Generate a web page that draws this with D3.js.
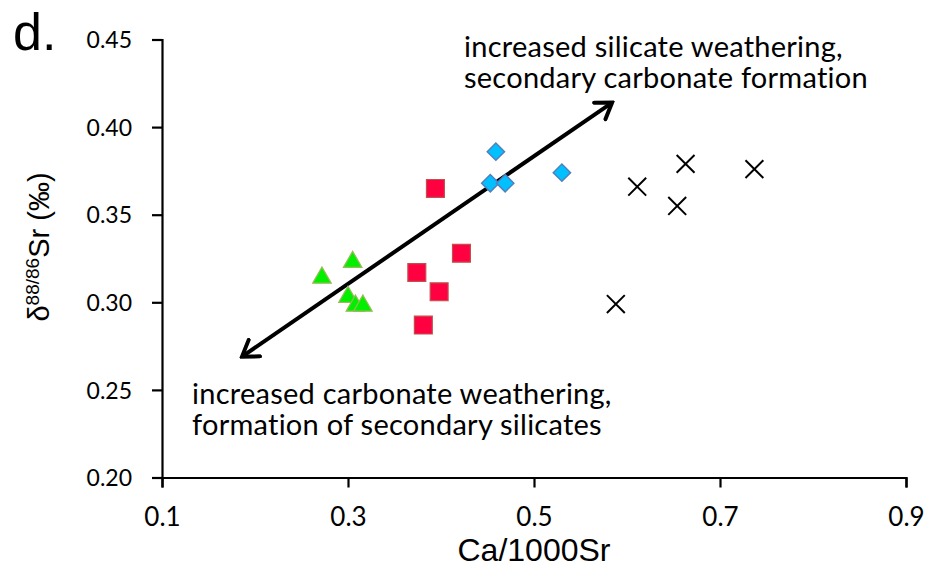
<!DOCTYPE html>
<html>
<head>
<meta charset="utf-8">
<script src="https://cdn.jsdelivr.net/npm/d3@7"></script>
<style>
  body { margin: 0; background: #fff; }
  .tick text { font-family: Lato, sans-serif; fill: #000; }
  .xax .tick text { font-size: 26px; }
  .yax .tick text { font-size: 23px; }
  .note { font-family: Lato, sans-serif; font-size: 29px; letter-spacing: 0.25px; fill: #000; }
</style>
</head>
<body>
<div class="chart"></div>
<script>
var svgWidth = 932;
var svgHeight = 570;
var margin = { top: 39.5, right: 26, bottom: 92.5, left: 162 };
var width = svgWidth - margin.left - margin.right;
var height = svgHeight - margin.top - margin.bottom;

// data
var triangleX = [0.272, 0.305, 0.300, 0.308, 0.316];
var triangleY = [0.314, 0.323, 0.303, 0.298, 0.298];
var squareX = [0.394, 0.422, 0.374, 0.398, 0.381];
var squareY = [0.365, 0.328, 0.317, 0.306, 0.287];
var diamondX = [0.459, 0.453, 0.469, 0.530];
var diamondY = [0.386, 0.368, 0.368, 0.374];
var crossX = [0.611, 0.663, 0.654, 0.737, 0.588];
var crossY = [0.366, 0.379, 0.355, 0.376, 0.299];
var xTicks = [0.1, 0.3, 0.5, 0.7, 0.9];
var yTicks = [0.20, 0.25, 0.30, 0.35, 0.40, 0.45];
// trend arrow ends, data coordinates
var arrowX = [0.186, 0.584];
var arrowY = [0.269, 0.414];

var svg = d3.select(".chart")
  .append("svg")
  .attr("width", svgWidth)
  .attr("height", svgHeight);

var chart = svg.append("g")
  .attr("transform", "translate(" + margin.left + "," + margin.top + ")");

var xScale = d3.scaleLinear().domain([0.1, 0.9]).range([0, width]);
var yScale = d3.scaleLinear().domain([0.20, 0.45]).range([height, 0]);

var bottomAxis = d3.axisBottom(xScale)
  .tickValues(xTicks)
  .tickFormat(d3.format(".1f"))
  .tickSizeOuter(0)
  .tickSize(10);
var leftAxis = d3.axisLeft(yScale)
  .tickValues(yTicks)
  .tickFormat(d3.format(".2f"))
  .tickSizeOuter(0)
  .tickSize(10)
  .tickPadding(20);

var gx = chart.append("g")
  .attr("class", "xax")
  .attr("transform", "translate(0," + height + ")")
  .call(bottomAxis);
var gy = chart.append("g").attr("class", "yax").call(leftAxis);
[gx, gy].forEach(function(g) {
  g.select(".domain").attr("stroke", "#000").attr("stroke-width", 2.2);
  g.selectAll(".tick line").attr("stroke", "#000").attr("stroke-width", 2.2);
});
gx.selectAll(".tick text").attr("y", 48).attr("dy", 0);
gy.selectAll(".tick text").attr("dy", "0.36em");

// arrowheads
var defs = svg.append("defs");
defs.append("marker")
  .attr("id", "head")
  .attr("markerUnits", "userSpaceOnUse")
  .attr("viewBox", "0 0 20 24")
  .attr("refX", 17).attr("refY", 12)
  .attr("markerWidth", 20).attr("markerHeight", 24)
  .attr("orient", "auto-start-reverse")
  .append("path")
  .attr("d", "M2,2 L17,12 L2,22")
  .attr("fill", "none")
  .attr("stroke", "#000")
  .attr("stroke-width", 4)
  .attr("stroke-linecap", "round");

chart.append("line")
  .attr("x1", xScale(arrowX[0])).attr("y1", yScale(arrowY[0]))
  .attr("x2", xScale(arrowX[1])).attr("y2", yScale(arrowY[1]))
  .attr("stroke", "#000")
  .attr("stroke-width", 4)
  .attr("marker-start", "url(#head)")
  .attr("marker-end", "url(#head)");

function plot(xs, ys, symbol, size, fill, stroke, sw, rot) {
  chart.append("g").selectAll("path")
    .data(xs)
    .enter().append("path")
    .attr("d", d3.symbol().type(symbol).size(size))
    .attr("transform", function(d, i) {
      return "translate(" + xScale(d) + "," + yScale(ys[i]) + ") rotate(" + (rot || 0) + ")";
    })
    .attr("fill", fill)
    .attr("stroke", stroke)
    .attr("stroke-width", sw);
}

plot(triangleX, triangleY, d3.symbolTriangle, 150, "#00f000", "#9bbb59", 1.2);
plot(squareX, squareY, d3.symbolSquare, 320, "#ff0040", "#c0504d", 1.2);
plot(diamondX, diamondY, d3.symbolSquare, 150, "#00c0ff", "#4f81bd", 1.5, 45);
plot(crossX, crossY, d3.symbolX, 210, "none", "#000", 2);

// annotations, one text per line
function note(x, y, lines, gap) {
  lines.forEach(function(s, i) {
    svg.append("text").attr("class", "note")
      .attr("x", x).attr("y", y + i * gap)
      .text(s);
  });
}
note(464, 57, ["increased silicate weathering,", "secondary carbonate formation"], 31);
note(192, 404, ["increased carbonate weathering,", "formation of secondary silicates"], 31);

// axis titles
svg.append("text")
  .attr("x", margin.left + width / 2)
  .attr("y", 561)
  .attr("text-anchor", "middle")
  .style("font-family", "'Liberation Sans Narrow', 'Liberation Sans', Arial, sans-serif")
  .style("font-size", "32px")
  .text("Ca/1000Sr");

var yt = svg.append("text")
  .attr("transform", "translate(49,247) rotate(-90)")
  .attr("text-anchor", "middle")
  .style("font-family", "'Liberation Sans', Arial, sans-serif")
  .style("font-size", "29px");
yt.append("tspan").text("\u03b4");
yt.append("tspan").attr("dy", -10).style("font-size", "19px").text("88/86");
yt.append("tspan").attr("dy", 10).text("Sr (\u2030)");

svg.append("text")
  .attr("x", 13).attr("y", 50)
  .style("font-family", "'Liberation Sans', Arial, sans-serif")
  .style("font-size", "52px")
  .text("d.");
</script>
</body>
</html>
